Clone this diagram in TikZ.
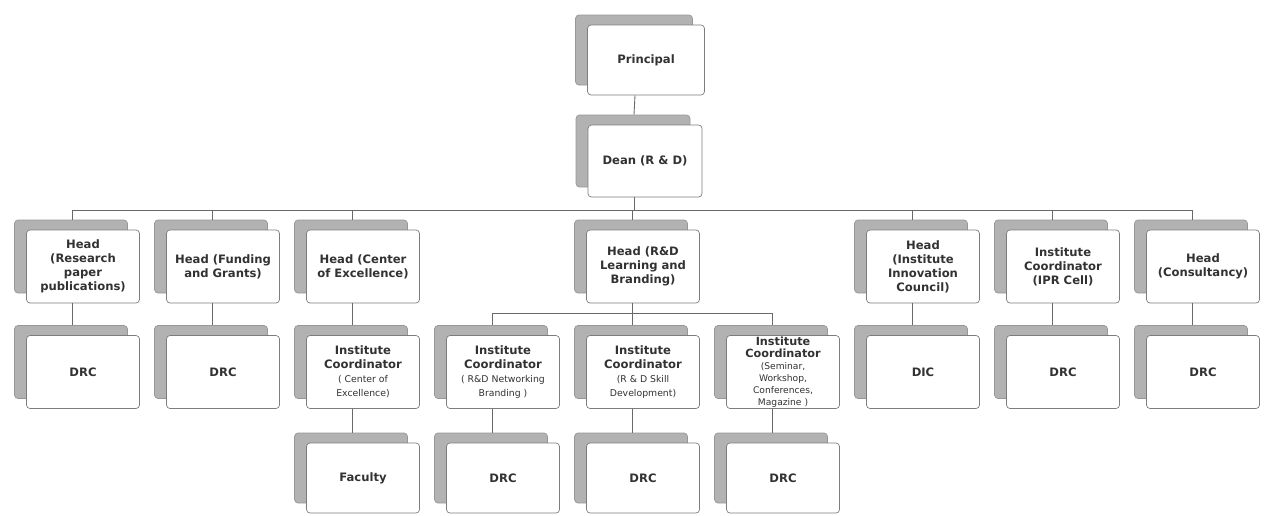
\documentclass[tikz,border=0pt]{standalone}
\usepackage{fontspec}
\setmainfont{DejaVu Sans}
\usetikzlibrary{positioning,shadows}
\definecolor{boxGray}{RGB}{125,125,125}
\definecolor{shadeGray}{RGB}{178,178,178}
\definecolor{inkGray}{RGB}{50,50,50}
\definecolor{lineGray}{RGB}{105,105,105}
\tikzset{
  orgbox/.style={rectangle,draw=boxGray,fill=white,line width=0.4pt,
    rounded corners=2pt,align=center,inner sep=1pt,
    minimum width=2.26cm,minimum height=#1,text=inkGray,
    font=\fontsize{6.6}{8}\selectfont\bfseries,
    copy shadow={shadow xshift=-2.4mm,shadow yshift=2mm,fill=shadeGray,draw=boxGray!80}},
  orgbox/.default=1.46cm,
  link/.style={draw=lineGray,line width=0.5pt},
  outp/.style={xshift=-2.2mm},
  inp/.style={xshift=-2.2mm,yshift=2mm}
}
\newcommand{\subfont}{\fontsize{5.3}{6}\selectfont\mdseries}
\newcommand{\tightfont}{\fontsize{5.2}{5.5}\selectfont\mdseries}

\begin{document}
\begin{tikzpicture}
  \useasboundingbox (0,0) rectangle (25.44,-10.30);

  % top of the chart
  \node[orgbox=1.40cm, minimum width=2.34cm] (principal) at (12.92,-1.20) {Principal};
  \node[orgbox=1.44cm, minimum width=2.28cm] (dean) at (12.90,-3.22) {Dean (R \& D)};

  % heads
  \node[orgbox] (headRes)  at (1.66,-5.33)  {Head\\(Research\\paper\\publications)};
  \node[orgbox] (headFund) at (4.46,-5.33)  {Head (Funding\\and Grants)};
  \node[orgbox] (headCoe)  at (7.26,-5.33)  {Head (Center\\of Excellence)};
  \node[orgbox] (headRD)   at (12.86,-5.33) {Head (R\&D\\Learning and\\Branding)};
  \node[orgbox] (headIic)  at (18.46,-5.33) {Head\\(Institute\\Innovation\\Council)};
  \node[orgbox] (coordIpr) at (21.26,-5.33) {Institute\\Coordinator\\(IPR Cell)};
  \node[orgbox] (headCons) at (24.06,-5.33) {Head\\(Consultancy)};

  % coordinators and cells
  \node[orgbox] (drcRes)     at (1.66,-7.44)  {DRC};
  \node[orgbox] (drcFund)    at (4.46,-7.44)  {DRC};
  \node[orgbox] (coordCoe)   at (7.26,-7.44)  {Institute\\Coordinator\\\subfont ( Center of\\\subfont Excellence)};
  \node[orgbox] (coordNet)   at (10.06,-7.44) {Institute\\Coordinator\\\subfont ( R\&D Networking\\\subfont Branding )};
  \node[orgbox] (coordSkill) at (12.86,-7.44) {Institute\\Coordinator\\\subfont (R \& D Skill\\\subfont Development)};
  \node[orgbox, inner sep=0.3pt, font=\fontsize{6.4}{6.9}\selectfont\bfseries] (coordSem) at (15.66,-7.44)
    {Institute\\Coordinator\\\tightfont (Seminar,\\\tightfont Workshop,\\\tightfont Conferences,\\\tightfont Magazine )};
  \node[orgbox] (dicIic)     at (18.46,-7.44) {DIC};
  \node[orgbox] (drcIpr)     at (21.26,-7.44) {DRC};
  \node[orgbox] (drcCons)    at (24.06,-7.44) {DRC};

  % last row
  \node[orgbox=1.40cm] (faculty)  at (7.26,-9.56)  {Faculty};
  \node[orgbox=1.40cm] (drcNet)   at (10.06,-9.56) {DRC};
  \node[orgbox=1.40cm] (drcSkill) at (12.86,-9.56) {DRC};
  \node[orgbox=1.40cm] (drcSem)   at (15.66,-9.56) {DRC};

  \draw[link] ([outp]principal.south) -- ([inp]dean.north);
  \foreach \n in {headRes,headFund,headCoe,headRD,headIic,coordIpr,headCons}
    \draw[link] ([outp]dean.south) -- ++(0,-0.26) -| ([inp]\n.north);
  \foreach \a/\b in {headRes/drcRes,headFund/drcFund,headCoe/coordCoe,
      headIic/dicIic,coordIpr/drcIpr,headCons/drcCons}
    \draw[link] ([outp]\a.south) -- ([inp]\b.north);
  \foreach \n in {coordNet,coordSkill,coordSem}
    \draw[link] ([outp]headRD.south) -- ++(0,-0.2) -| ([inp]\n.north);
  \foreach \a/\b in {coordCoe/faculty,coordNet/drcNet,coordSkill/drcSkill,coordSem/drcSem}
    \draw[link] ([outp]\a.south) -- ([inp]\b.north);
\end{tikzpicture}
\end{document}
